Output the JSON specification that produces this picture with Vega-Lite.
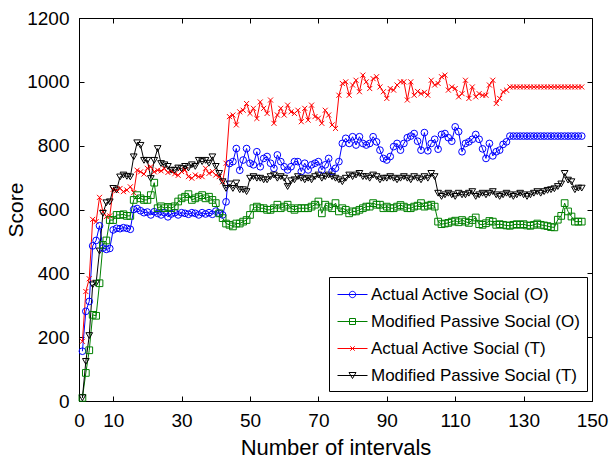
{
  "$schema": "https://vega.github.io/schema/vega-lite/v6.json",
  "width": 513,
  "height": 383,
  "autosize": {"type": "none"},
  "padding": {"left": 79, "top": 18, "right": 17, "bottom": 60},
  "config": {
    "view": {"stroke": "black", "strokeWidth": 1},
    "font": "Liberation Sans",
    "axis": {"grid": false, "domainColor": "black", "tickColor": "black", "labelColor": "black", "titleColor": "black", "labelFont": "Liberation Sans", "titleFont": "Liberation Sans", "titleFontWeight": "normal"}
  },
  "data": {"values": [
    {"x":1,"AO":156,"MO":10,"AT":187,"MT":10},
    {"x":2,"AO":281,"MO":88,"AT":343,"MT":124},
    {"x":3,"AO":312,"MO":159,"AT":383,"MT":205},
    {"x":4,"AO":486,"MO":270,"AT":569,"MT":364},
    {"x":5,"AO":503,"MO":267,"AT":562,"MT":369},
    {"x":6,"AO":549,"MO":369,"AT":638,"MT":470},
    {"x":7,"AO":479,"MO":489,"AT":593,"MT":588},
    {"x":8,"AO":475,"MO":503,"AT":578,"MT":621},
    {"x":9,"AO":478,"MO":567,"AT":580,"MT":624},
    {"x":10,"AO":536,"MO":567,"AT":663,"MT":666},
    {"x":11,"AO":541,"MO":583,"AT":659,"MT":661},
    {"x":12,"AO":540,"MO":583,"AT":666,"MT":702},
    {"x":13,"AO":543,"MO":585,"AT":656,"MT":708},
    {"x":14,"AO":541,"MO":580,"AT":661,"MT":704},
    {"x":15,"AO":538,"MO":580,"AT":671,"MT":702},
    {"x":16,"AO":600,"MO":630,"AT":653,"MT":765},
    {"x":17,"AO":603,"MO":645,"AT":723,"MT":809},
    {"x":18,"AO":596,"MO":635,"AT":718,"MT":801},
    {"x":19,"AO":590,"MO":630,"AT":711,"MT":754},
    {"x":20,"AO":592,"MO":630,"AT":729,"MT":754},
    {"x":21,"AO":583,"MO":645,"AT":734,"MT":697},
    {"x":22,"AO":593,"MO":684,"AT":718,"MT":754},
    {"x":23,"AO":588,"MO":604,"AT":723,"MT":791},
    {"x":24,"AO":583,"MO":610,"AT":721,"MT":744},
    {"x":25,"AO":590,"MO":604,"AT":728,"MT":740},
    {"x":26,"AO":577,"MO":608,"AT":716,"MT":735},
    {"x":27,"AO":586,"MO":604,"AT":720,"MT":723},
    {"x":28,"AO":590,"MO":610,"AT":712,"MT":723},
    {"x":29,"AO":583,"MO":625,"AT":707,"MT":730},
    {"x":30,"AO":590,"MO":635,"AT":719,"MT":728},
    {"x":31,"AO":588,"MO":640,"AT":724,"MT":735},
    {"x":32,"AO":585,"MO":648,"AT":703,"MT":730},
    {"x":33,"AO":590,"MO":630,"AT":698,"MT":740},
    {"x":34,"AO":588,"MO":635,"AT":708,"MT":735},
    {"x":35,"AO":583,"MO":640,"AT":703,"MT":754},
    {"x":36,"AO":590,"MO":645,"AT":703,"MT":750},
    {"x":37,"AO":586,"MO":635,"AT":729,"MT":754},
    {"x":38,"AO":590,"MO":640,"AT":713,"MT":745},
    {"x":39,"AO":585,"MO":630,"AT":719,"MT":765},
    {"x":40,"AO":595,"MO":620,"AT":708,"MT":735},
    {"x":41,"AO":588,"MO":588,"AT":703,"MT":713},
    {"x":42,"AO":583,"MO":573,"AT":687,"MT":687},
    {"x":43,"AO":624,"MO":556,"AT":745,"MT":666},
    {"x":44,"AO":744,"MO":552,"AT":891,"MT":680},
    {"x":45,"AO":750,"MO":547,"AT":896,"MT":666},
    {"x":46,"AO":791,"MO":556,"AT":865,"MT":683},
    {"x":47,"AO":723,"MO":556,"AT":906,"MT":662},
    {"x":48,"AO":755,"MO":562,"AT":911,"MT":662},
    {"x":49,"AO":791,"MO":567,"AT":932,"MT":656},
    {"x":50,"AO":745,"MO":583,"AT":901,"MT":698},
    {"x":51,"AO":740,"MO":604,"AT":917,"MT":703},
    {"x":52,"AO":781,"MO":609,"AT":885,"MT":698},
    {"x":53,"AO":734,"MO":604,"AT":937,"MT":698},
    {"x":54,"AO":760,"MO":604,"AT":917,"MT":693},
    {"x":55,"AO":766,"MO":599,"AT":901,"MT":693},
    {"x":56,"AO":745,"MO":599,"AT":943,"MT":703},
    {"x":57,"AO":729,"MO":604,"AT":870,"MT":708},
    {"x":58,"AO":771,"MO":615,"AT":896,"MT":698},
    {"x":59,"AO":750,"MO":604,"AT":917,"MT":703},
    {"x":60,"AO":734,"MO":609,"AT":896,"MT":698},
    {"x":61,"AO":724,"MO":615,"AT":927,"MT":672},
    {"x":62,"AO":734,"MO":604,"AT":906,"MT":690},
    {"x":63,"AO":750,"MO":599,"AT":901,"MT":693},
    {"x":64,"AO":750,"MO":604,"AT":911,"MT":703},
    {"x":65,"AO":719,"MO":604,"AT":875,"MT":698},
    {"x":66,"AO":745,"MO":604,"AT":917,"MT":693},
    {"x":67,"AO":724,"MO":604,"AT":880,"MT":698},
    {"x":68,"AO":740,"MO":609,"AT":927,"MT":693},
    {"x":69,"AO":745,"MO":615,"AT":891,"MT":703},
    {"x":70,"AO":750,"MO":625,"AT":886,"MT":708},
    {"x":71,"AO":724,"MO":588,"AT":870,"MT":698},
    {"x":72,"AO":740,"MO":615,"AT":911,"MT":703},
    {"x":73,"AO":760,"MO":609,"AT":896,"MT":708},
    {"x":74,"AO":719,"MO":604,"AT":865,"MT":703},
    {"x":75,"AO":729,"MO":620,"AT":854,"MT":698},
    {"x":76,"AO":750,"MO":594,"AT":958,"MT":693},
    {"x":77,"AO":807,"MO":604,"AT":995,"MT":687},
    {"x":78,"AO":823,"MO":599,"AT":1000,"MT":698},
    {"x":79,"AO":807,"MO":588,"AT":958,"MT":708},
    {"x":80,"AO":828,"MO":594,"AT":990,"MT":703},
    {"x":81,"AO":802,"MO":594,"AT":1005,"MT":708},
    {"x":82,"AO":828,"MO":599,"AT":969,"MT":713},
    {"x":83,"AO":807,"MO":604,"AT":1021,"MT":703},
    {"x":84,"AO":802,"MO":609,"AT":1000,"MT":703},
    {"x":85,"AO":807,"MO":609,"AT":979,"MT":698},
    {"x":86,"AO":828,"MO":620,"AT":1010,"MT":708},
    {"x":87,"AO":812,"MO":615,"AT":1016,"MT":703},
    {"x":88,"AO":786,"MO":615,"AT":984,"MT":693},
    {"x":89,"AO":760,"MO":604,"AT":969,"MT":698},
    {"x":90,"AO":755,"MO":609,"AT":948,"MT":698},
    {"x":91,"AO":766,"MO":604,"AT":979,"MT":703},
    {"x":92,"AO":797,"MO":604,"AT":974,"MT":698},
    {"x":93,"AO":807,"MO":609,"AT":990,"MT":693},
    {"x":94,"AO":786,"MO":614,"AT":1000,"MT":698},
    {"x":95,"AO":807,"MO":609,"AT":1000,"MT":703},
    {"x":96,"AO":825,"MO":604,"AT":943,"MT":698},
    {"x":97,"AO":830,"MO":604,"AT":1000,"MT":693},
    {"x":98,"AO":838,"MO":609,"AT":958,"MT":703},
    {"x":99,"AO":814,"MO":612,"AT":970,"MT":698},
    {"x":100,"AO":786,"MO":620,"AT":963,"MT":693},
    {"x":101,"AO":841,"MO":609,"AT":967,"MT":703},
    {"x":102,"AO":784,"MO":612,"AT":958,"MT":698},
    {"x":103,"AO":807,"MO":615,"AT":1005,"MT":713},
    {"x":104,"AO":820,"MO":609,"AT":990,"MT":703},
    {"x":105,"AO":789,"MO":562,"AT":995,"MT":651},
    {"x":106,"AO":835,"MO":554,"AT":1016,"MT":641},
    {"x":107,"AO":838,"MO":556,"AT":1021,"MT":646},
    {"x":108,"AO":825,"MO":558,"AT":974,"MT":651},
    {"x":109,"AO":814,"MO":562,"AT":984,"MT":646},
    {"x":110,"AO":859,"MO":565,"AT":979,"MT":641},
    {"x":111,"AO":844,"MO":560,"AT":953,"MT":651},
    {"x":112,"AO":781,"MO":567,"AT":963,"MT":646},
    {"x":113,"AO":807,"MO":562,"AT":1005,"MT":646},
    {"x":114,"AO":812,"MO":558,"AT":948,"MT":651},
    {"x":115,"AO":820,"MO":567,"AT":984,"MT":656},
    {"x":116,"AO":835,"MO":575,"AT":953,"MT":641},
    {"x":117,"AO":820,"MO":554,"AT":963,"MT":646},
    {"x":118,"AO":790,"MO":552,"AT":958,"MT":651},
    {"x":119,"AO":760,"MO":557,"AT":958,"MT":646},
    {"x":120,"AO":807,"MO":564,"AT":990,"MT":651},
    {"x":121,"AO":768,"MO":562,"AT":1005,"MT":656},
    {"x":122,"AO":781,"MO":552,"AT":932,"MT":646},
    {"x":123,"AO":786,"MO":554,"AT":948,"MT":641},
    {"x":124,"AO":804,"MO":552,"AT":969,"MT":646},
    {"x":125,"AO":812,"MO":550,"AT":974,"MT":651},
    {"x":126,"AO":830,"MO":549,"AT":984,"MT":646},
    {"x":127,"AO":830,"MO":552,"AT":984,"MT":641},
    {"x":128,"AO":830,"MO":554,"AT":984,"MT":646},
    {"x":129,"AO":830,"MO":552,"AT":984,"MT":651},
    {"x":130,"AO":830,"MO":554,"AT":984,"MT":646},
    {"x":131,"AO":830,"MO":550,"AT":984,"MT":641},
    {"x":132,"AO":830,"MO":549,"AT":984,"MT":646},
    {"x":133,"AO":830,"MO":552,"AT":984,"MT":651},
    {"x":134,"AO":830,"MO":556,"AT":984,"MT":656},
    {"x":135,"AO":830,"MO":552,"AT":984,"MT":651},
    {"x":136,"AO":830,"MO":550,"AT":984,"MT":656},
    {"x":137,"AO":830,"MO":548,"AT":984,"MT":660},
    {"x":138,"AO":830,"MO":545,"AT":984,"MT":662},
    {"x":139,"AO":830,"MO":544,"AT":984,"MT":665},
    {"x":140,"AO":830,"MO":568,"AT":984,"MT":672},
    {"x":141,"AO":830,"MO":580,"AT":984,"MT":680},
    {"x":142,"AO":830,"MO":620,"AT":984,"MT":713},
    {"x":143,"AO":830,"MO":594,"AT":984,"MT":692},
    {"x":144,"AO":830,"MO":578,"AT":984,"MT":687},
    {"x":145,"AO":830,"MO":562,"AT":984,"MT":662},
    {"x":146,"AO":830,"MO":562,"AT":984,"MT":667},
    {"x":147,"AO":830,"MO":562,"AT":984,"MT":667}
  ]},
  "transform": [{"fold": ["AO", "MO", "AT", "MT"], "as": ["s", "v"]}],
  "layer": [
    {
      "mark": {"type": "line", "strokeWidth": 1},
      "encoding": {
        "x": {"field": "x", "type": "quantitative", "scale": {"domain": [0, 150], "nice": false},
          "axis": {"values": [0, 10, 30, 50, 70, 90, 110, 130, 150], "title": "Number of intervals", "titleFontSize": 22, "titlePadding": 7, "labelFontSize": 19, "tickSize": -5, "labelPadding": 15, "labelFlush": false}},
        "y": {"field": "v", "type": "quantitative", "scale": {"domain": [0, 1200], "nice": false},
          "axis": {"values": [0, 200, 400, 600, 800, 1000, 1200], "format": "d", "title": "Score", "titleFontSize": 21, "titlePadding": 0, "labelFontSize": 19, "tickSize": -5, "labelPadding": 15}},
        "color": {
          "field": "s", "type": "nominal",
          "scale": {"domain": ["AO", "MO", "AT", "MT"], "range": ["#0000ff", "#008000", "#ff0000", "#000000"]},
          "legend": {
            "title": null,
            "orient": "none",
            "legendX": 250,
            "legendY": 259,
            "direction": "vertical",
            "strokeColor": "black",
            "fillColor": "white",
            "padding": 7,
            "rowPadding": 8,
            "labelFont": "Liberation Sans",
            "labelFontSize": 17,
            "labelColor": "black",
            "labelLimit": 400,
            "symbolType": "stroke",
            "symbolSize": 400,
            "symbolStrokeWidth": 1,
            "symbolFillColor": "transparent",
            "symbolOffset": 6,
            "labelOffset": 8,
            "labelExpr": "datum.label == 'AO' ? 'Actual Active Social (O)' : datum.label == 'MO' ? 'Modified Passive Social (O)' : datum.label == 'AT' ? 'Actual Active Social (T)' : 'Modified Passive Social (T)'",
            "encode": {
              "symbols": {
                "update": {
                  "fill": {"value": "transparent"},
                  "shape": {"signal": "datum.value == 'AO' ? 'M-1.5,0L1.5,0M0.32,0A0.32,0.32,0,1,1,-0.32,0A0.32,0.32,0,1,1,0.32,0' : datum.value == 'MO' ? 'M-1.5,0L1.5,0M-0.3,-0.3L0.3,-0.3L0.3,0.3L-0.3,0.3Z' : datum.value == 'AT' ? 'M-1.5,0L1.5,0M-0.22,-0.22L0.22,0.22M-0.22,0.22L0.22,-0.22' : 'M-1.5,0L1.5,0M-0.35,-0.3L0.35,-0.3L0,0.3Z'"}
                }
              }
            }
          }
        }
      }
    },
    {
      "mark": {"type": "point", "filled": false, "strokeWidth": 1, "size": 45, "opacity": 1},
      "encoding": {
        "x": {"field": "x", "type": "quantitative", "axis": {"orient": "top", "values": [0, 10, 30, 50, 70, 90, 110, 130, 150], "labels": false, "title": null, "tickSize": -5, "domain": false}},
        "y": {"field": "v", "type": "quantitative", "axis": {"orient": "right", "values": [0, 200, 400, 600, 800, 1000, 1200], "labels": false, "title": null, "tickSize": -5, "domain": false}},
        "color": {"field": "s", "type": "nominal", "legend": null},
        "shape": {"field": "s", "type": "nominal", "legend": null,
          "scale": {"domain": ["AO", "MO", "AT", "MT"], "range": ["circle", "square", "M-0.75,-0.75L0.75,0.75M-0.75,0.75L0.75,-0.75", "triangle-down"]}}
      }
    }
  ],
  "resolve": {"axis": {"x": "independent", "y": "independent"}, "legend": {"color": "independent"}}
}
